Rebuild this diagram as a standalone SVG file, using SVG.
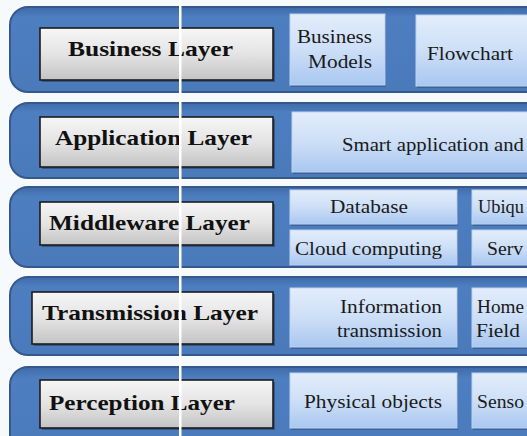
<svg xmlns="http://www.w3.org/2000/svg" width="527" height="436" viewBox="0 0 527 436">
<defs>
<linearGradient id="gGray" x1="0" y1="0" x2="0" y2="1">
<stop offset="0" stop-color="#f6f6f6"/>
<stop offset="0.5" stop-color="#e4e4e4"/>
<stop offset="1" stop-color="#c4c4c4"/>
</linearGradient>
<linearGradient id="gBlue" x1="0" y1="0" x2="0" y2="1">
<stop offset="0" stop-color="#e3edfb"/>
<stop offset="0.5" stop-color="#cddff7"/>
<stop offset="1" stop-color="#a9c7f0"/>
</linearGradient>
<linearGradient id="gBand" x1="0" y1="0" x2="0" y2="1">
<stop offset="0" stop-color="#3f6aa8"/>
<stop offset="0.12" stop-color="#4d7ec0"/>
<stop offset="1" stop-color="#4a7aba"/>
</linearGradient>
</defs>
<style>
.band{fill:url(#gBand);stroke:#36598d;stroke-width:2}
.lbl{fill:url(#gGray);stroke:#1c1c1c;stroke-width:1.6}
.lsh{fill:#2a3f5f;opacity:0.6}
.item{fill:url(#gBlue);stroke:#bcd3f0;stroke-width:1}
.ish{fill:#35578a;opacity:0.7}
.t1,.t2{font-family:"Liberation Serif","Times New Roman",Tinos,"DejaVu Serif","Noto Serif",FreeSerif,serif}
.t1{font-weight:bold;font-size:21px;fill:#111}
.t2{font-size:18px;fill:#1a1a1a}
</style>
<rect width="527" height="436" fill="#f7fafd"/>
<g id="connectors"/>
<g id="business">
<rect class="band" x="10" y="7" width="540" height="85" rx="18"/>
<rect class="lsh" x="42" y="30" width="233" height="52"/>
<rect class="lbl" x="40" y="28" width="233" height="52"/>
<text class="t1" x="68" y="56" textLength="165" lengthAdjust="spacingAndGlyphs">Business Layer</text>
<rect class="ish" x="291" y="16" width="95" height="71"/>
<rect class="item" x="290" y="14" width="95" height="71"/>
<text class="t2" x="372" y="43" text-anchor="end" textLength="75" lengthAdjust="spacingAndGlyphs">Business</text>
<text class="t2" x="372" y="68" text-anchor="end" textLength="64" lengthAdjust="spacingAndGlyphs">Models</text>
<rect class="ish" x="417" y="17" width="130" height="71"/>
<rect class="item" x="416" y="15" width="130" height="71"/>
<text class="t2" x="427" y="60" textLength="86" lengthAdjust="spacingAndGlyphs">Flowchart</text>
</g>
<g id="application">
<rect class="band" x="10" y="103" width="540" height="75" rx="18"/>
<rect class="lsh" x="42" y="119" width="233" height="50"/>
<rect class="lbl" x="40" y="117" width="233" height="50"/>
<text class="t1" x="55" y="145" textLength="197" lengthAdjust="spacingAndGlyphs">Application Layer</text>
<rect class="ish" x="293" y="114" width="260" height="60"/>
<rect class="item" x="292" y="112" width="260" height="60"/>
<text class="t2" x="342" y="151" textLength="182" lengthAdjust="spacingAndGlyphs">Smart application and</text>
</g>
<g id="middleware">
<rect class="band" x="10" y="187" width="540" height="80" rx="18"/>
<rect class="lsh" x="42" y="204" width="233" height="43"/>
<rect class="lbl" x="40" y="202" width="233" height="43"/>
<text class="t1" x="49" y="230" textLength="201" lengthAdjust="spacingAndGlyphs">Middleware Layer</text>
<rect class="ish" x="291" y="192" width="167" height="34"/>
<rect class="item" x="290" y="190" width="167" height="34"/>
<text class="t2" x="330" y="213" textLength="78" lengthAdjust="spacingAndGlyphs">Database</text>
<rect class="ish" x="291" y="232" width="167" height="35"/>
<rect class="item" x="290" y="230" width="167" height="35"/>
<text class="t2" x="295" y="255" textLength="147" lengthAdjust="spacingAndGlyphs">Cloud computing</text>
<rect class="ish" x="473" y="192" width="80" height="34"/>
<rect class="item" x="472" y="190" width="80" height="34"/>
<text class="t2" x="478" y="213" textLength="46" lengthAdjust="spacingAndGlyphs">Ubiqu</text>
<rect class="ish" x="473" y="232" width="80" height="35"/>
<rect class="item" x="472" y="230" width="80" height="35"/>
<text class="t2" x="487" y="255" textLength="36" lengthAdjust="spacingAndGlyphs">Serv</text>
</g>
<g id="transmission">
<rect class="band" x="10" y="277" width="540" height="78" rx="18"/>
<rect class="lsh" x="34" y="294" width="241" height="52"/>
<rect class="lbl" x="32" y="292" width="241" height="52"/>
<text class="t1" x="42" y="320" textLength="216" lengthAdjust="spacingAndGlyphs">Transmission Layer</text>
<rect class="ish" x="291" y="290" width="167" height="59"/>
<rect class="item" x="290" y="288" width="167" height="59"/>
<text class="t2" x="442" y="313" text-anchor="end" textLength="102" lengthAdjust="spacingAndGlyphs">Information</text>
<text class="t2" x="442" y="337" text-anchor="end" textLength="105" lengthAdjust="spacingAndGlyphs">transmission</text>
<rect class="ish" x="473" y="290" width="80" height="59"/>
<rect class="item" x="472" y="288" width="80" height="59"/>
<text class="t2" x="477" y="313" textLength="47" lengthAdjust="spacingAndGlyphs">Home</text>
<text class="t2" x="476" y="337" textLength="44" lengthAdjust="spacingAndGlyphs">Field</text>
</g>
<g id="perception">
<rect class="band" x="10" y="367" width="540" height="90" rx="18"/>
<rect class="lsh" x="42" y="382" width="233" height="48"/>
<rect class="lbl" x="40" y="380" width="233" height="48"/>
<text class="t1" x="49" y="410" textLength="186" lengthAdjust="spacingAndGlyphs">Perception Layer</text>
<rect class="ish" x="291" y="375" width="167" height="55"/>
<rect class="item" x="290" y="373" width="167" height="55"/>
<text class="t2" x="304" y="408" textLength="138" lengthAdjust="spacingAndGlyphs">Physical objects</text>
<rect class="ish" x="473" y="375" width="80" height="55"/>
<rect class="item" x="472" y="373" width="80" height="55"/>
<text class="t2" x="477" y="408" textLength="47" lengthAdjust="spacingAndGlyphs">Senso</text>
</g>
<rect x="179" y="0" width="2.5" height="436" fill="#ffffff"/>
</svg>
